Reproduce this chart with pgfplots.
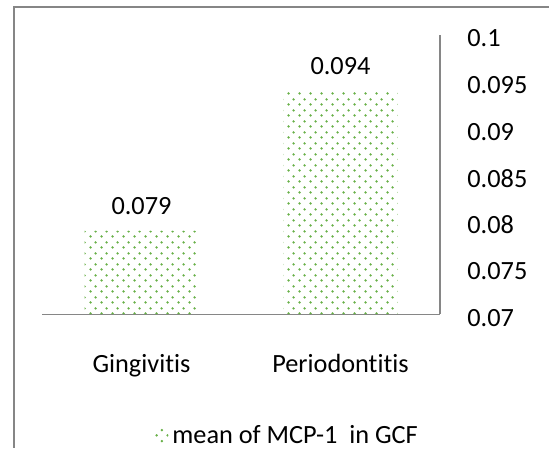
\documentclass[border=0pt]{standalone}
\usepackage{fontspec}
\setmainfont{Carlito}[Ligatures=NoCommon]
\usepackage{pgfplots}
\pgfplotsset{compat=1.18}
\usetikzlibrary{patterns.meta}
\definecolor{dotgreen}{RGB}{104,176,72}
\definecolor{framegray}{RGB}{134,134,134}
\tikzdeclarepattern{
  name=gdots,
  type=uncolored,
  bounding box={(0,0) and (5.5pt,5.5pt)},
  tile size={(5.5pt,5.5pt)},
  code={
    \pgfpathcircle{\pgfpoint{1.375pt}{1.375pt}}{0.7pt}
    \pgfpathcircle{\pgfpoint{4.125pt}{4.125pt}}{0.7pt}
    \pgfusepath{fill}
  }
}
\begin{document}
\begin{tikzpicture}[font=\fontsize{13.15}{16}\selectfont]
\path[use as bounding box] (0,0) rectangle (274.5pt,-224pt);
\begin{axis}[
  at={(21pt,-157.15pt)}, anchor=south west,
  scale only axis, width=199pt, height=139.65pt,
  xmin=-0.5, xmax=1.5, ymin=0.07, ymax=0.1,
  axis x line*=bottom, axis y line*=right,
  axis line style={framegray, line width=0.75pt},
  major tick length=0pt, tick style={draw=none},
  xtick={0,1}, xticklabels={Gingivitis,Periodontitis},
  xticklabel style={anchor=base, inner sep=0pt, yshift=-29pt},
  ytick={0.07,0.075,0.08,0.085,0.09,0.095,0.1},
  yticklabels={0.07,0.075,0.08,0.085,0.09,0.095,0.1},
  yticklabel style={anchor=west, inner sep=0pt, xshift=13.5pt, yshift=-1.75pt},
  legend style={at={(0.2814,-0.4357)}, anchor=west, draw=none, fill=none, inner sep=0pt,
    font=\fontsize{13.15}{16}\selectfont},
  legend image code/.code={\fill[pattern=gdots, pattern color=dotgreen] (0pt,-3.5pt) rectangle (7pt,3.5pt);},
]
\addplot[ybar, bar width=57pt, draw=none, pattern=gdots, pattern color=dotgreen,
  point meta=explicit symbolic, nodes near coords,
  nodes near coords style={anchor=base, inner sep=0pt, yshift=8pt, text=black}]
  coordinates {(0,0.079)[0.079] (1,0.094)[0.094]};
\addlegendentry{mean of MCP-1\ \ in GCF}
\end{axis}
\fill[framegray] (6.6pt,-3.2pt) rectangle (274.5pt,-4.0pt);
\fill[framegray] (6.6pt,-3.2pt) rectangle (7.4pt,-224pt);
\end{tikzpicture}
\end{document}
